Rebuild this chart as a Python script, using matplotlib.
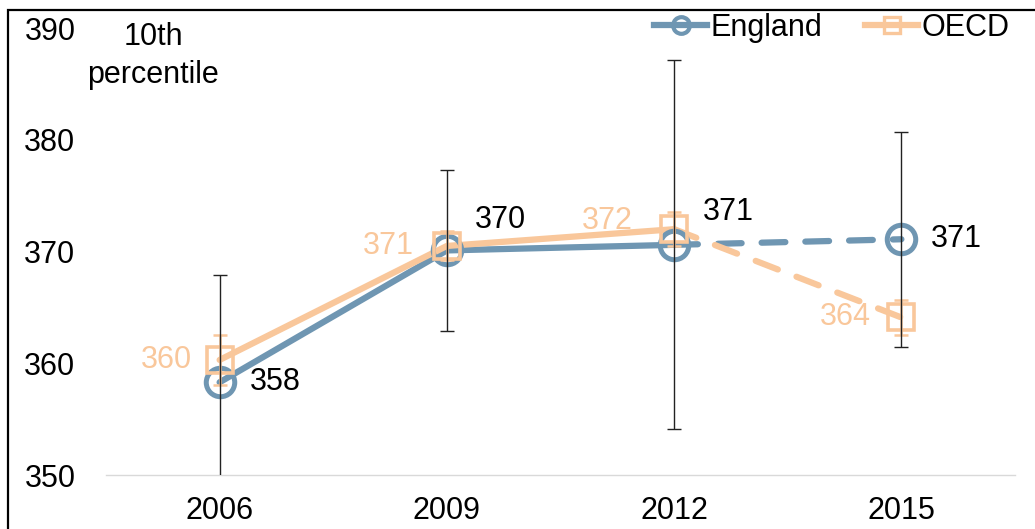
import matplotlib
matplotlib.use('Agg')
import matplotlib.pyplot as plt
from matplotlib.lines import Line2D
from matplotlib.patches import Rectangle

plt.rcParams['font.family'] = ['Liberation Sans', 'DejaVu Sans']

# ------------------------------------------------------
years = ['2006', '2009', '2012', '2015']

england = [358.3, 370.1, 370.6, 371.1]
england_err = [9.6, 7.2, 16.5, 9.6]
england_labels = ['358', '370', '371', '371']

oecd = [360.3, 370.5, 372.0, 364.1]
oecd_err = [2.2, 1.3, 1.5, 1.6]
oecd_labels = ['360', '371', '372', '364']

blue = '#6f96b2'
orange = '#f9c79b'
fs = 22

fig = plt.figure(figsize=(10.35, 5.29), dpi=100)
ax = fig.add_axes([0.1024, 0.102, 0.8783, 0.845])

x = list(range(len(years)))

# solid part up to 2012, dashed from 2012 to 2015
ax.plot(x[:3], england[:3], color=blue, lw=4.5, solid_capstyle='round', zorder=2)
ax.plot(x[2:], england[2:], color=blue, lw=4.5, ls=(0, (3.8, 3.2)),
        dash_capstyle='round', zorder=2)
ax.plot(x[:3], oecd[:3], color=orange, lw=4.5, solid_capstyle='round', zorder=3)
ax.plot(x[2:], oecd[2:], color=orange, lw=4.5, ls=(0, (3.8, 3.2)),
        dash_capstyle='round', zorder=3)

ax.plot(x, england, ls='none', marker='o', ms=20.5, mfc='none', mec=blue, mew=3.6, zorder=4)
ax.plot(x, oecd, ls='none', marker='s', ms=18.5, mfc='none', mec=orange, mew=2.6, zorder=5)

ax.errorbar(x, oecd, yerr=oecd_err, fmt='none', ecolor=orange, elinewidth=1.8,
            capsize=5, capthick=1.8, zorder=6)
ax.errorbar(x, england, yerr=england_err, fmt='none', ecolor='#222222', elinewidth=1,
            capsize=5, capthick=1, zorder=7)

# data labels
eng_off = [(30, 0), (28, 30), (29, 33), (29, 0)]
oecd_off = [(-28, 0), (-33, 0), (-41, 8), (-31, 0)]
for i in x:
    ax.annotate(england_labels[i], (x[i], england[i]), xytext=eng_off[i],
                textcoords='offset pixels', ha='left', va='center',
                fontsize=fs, color='black')
    ax.annotate(oecd_labels[i], (x[i], oecd[i]), xytext=oecd_off[i],
                textcoords='offset pixels', ha='right', va='center',
                fontsize=fs, color=orange)

ax.set_xlim(-0.5, 3.5)
ax.set_ylim(350, 390)
ax.set_yticks([350, 360, 370, 380, 390])
ax.set_xticks(x)
ax.set_xticklabels(years)
ax.tick_params(axis='both', length=0, labelsize=fs)
ax.tick_params(axis='y', pad=22)
ax.tick_params(axis='x', pad=15)
for s in ['top', 'right', 'left']:
    ax.spines[s].set_visible(False)
ax.spines['bottom'].set_color('#d9d9d9')
ax.spines['bottom'].set_linewidth(1)

fig.text(0.148, 0.895, '10th\npercentile', ha='center', va='center',
         fontsize=fs, linespacing=1.35)

handles = [
    Line2D([], [], color=blue, lw=4.5, marker='o', ms=12, mfc='none', mec=blue, mew=3),
    Line2D([], [], color=orange, lw=4.5, marker='s', ms=11, mfc='none', mec=orange, mew=2.4),
]
fig.legend(handles, ['England', 'OECD'], loc='center right',
           bbox_to_anchor=(0.99, 0.948), ncol=2, frameon=False, fontsize=fs,
           handlelength=1.75, handletextpad=0.1, columnspacing=1.4, borderpad=0)

fig.patches.append(Rectangle((0.008, -0.2), 1.2, 0.981 + 0.2, transform=fig.transFigure,
                             fill=False, ec='black', lw=1.6))

fig.savefig('out.png', dpi=100)
